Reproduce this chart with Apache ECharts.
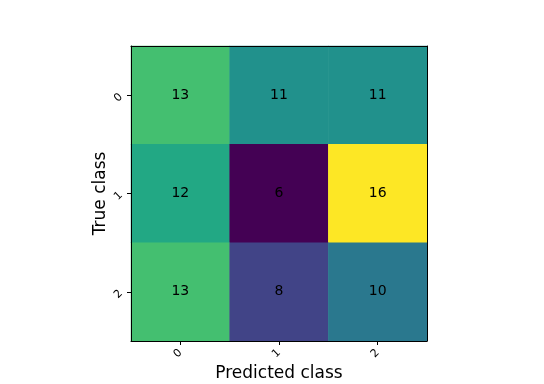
<!DOCTYPE html>
<html><head><meta charset="utf-8">
<script src="https://cdn.jsdelivr.net/npm/echarts@6/dist/echarts.min.js"></script>
<style>html,body{margin:0;padding:0;background:#fff}#c{width:544px;height:384px}</style>
</head><body><div id="c"></div>
<script>
const predictedLabels = ['0', '1', '2'];
const trueLabels = ['0', '1', '2'];
const row0 = [13, 11, 11];
const row1 = [12, 6, 16];
const row2 = [13, 8, 10];
const rows = [row0, row1, row2];
const viridis = ['#440154','#482475','#414487','#355f8d','#2a788e','#21918c','#22a884','#44bf70','#7ad151','#bddf26','#fde725'];

const data = [];
rows.forEach((r, i) => r.forEach((v, j) => data.push([j, i, v])));
const allVals = rows.flat();

const chart = echarts.init(document.getElementById('c'), null, {renderer: 'canvas'});
const font = 'DejaVu Sans';
const frameAxis = {
  axisLine: {show: true, lineStyle: {color: '#000', width: 1}},
  axisTick: {show: false}, axisLabel: {show: false}, splitLine: {show: false}, z: 10
};
chart.setOption({
  animation: false,
  textStyle: {fontFamily: font},
  grid: {left: 131, top: 46, width: 296, height: 295, containLabel: false, outerBoundsMode: 'none'},
  xAxis: [{
    type: 'category', data: predictedLabels,
    name: 'Predicted class', nameLocation: 'middle', nameGap: 24, nameMoveOverlap: false,
    nameTextStyle: {fontSize: 17, color: '#000', fontFamily: font},
    axisLine: {show: true, lineStyle: {color: '#000', width: 1}},
    axisTick: {show: true, alignWithLabel: true, length: 4, lineStyle: {color: '#000'}},
    axisLabel: {rotate: 45, fontSize: 11, color: '#000', margin: 10, fontFamily: font},
    splitArea: {show: false}, splitLine: {show: false}, z: 10
  }, Object.assign({type: 'category', data: predictedLabels, position: 'top'}, frameAxis)],
  yAxis: [{
    type: 'category', data: trueLabels, inverse: true,
    name: 'True class', nameLocation: 'middle', nameGap: 22, nameMoveOverlap: false,
    nameTextStyle: {fontSize: 17, color: '#000', fontFamily: font},
    axisLine: {show: true, lineStyle: {color: '#000', width: 1}},
    axisTick: {show: true, alignWithLabel: true, length: 4, lineStyle: {color: '#000'}},
    axisLabel: {rotate: 45, fontSize: 11, color: '#000', margin: 10, fontFamily: font},
    splitArea: {show: false}, splitLine: {show: false}, z: 10
  }, Object.assign({type: 'category', data: trueLabels, inverse: true, position: 'right'}, frameAxis)],
  visualMap: {show: false, min: Math.min(...allVals), max: Math.max(...allVals), dimension: 2, inRange: {color: viridis}},
  series: [{
    type: 'heatmap', data: data,
    label: {show: true, color: '#000', fontSize: 14, fontFamily: font},
    itemStyle: {borderWidth: 0},
    emphasis: {disabled: true}
  }]
});
</script></body></html>
